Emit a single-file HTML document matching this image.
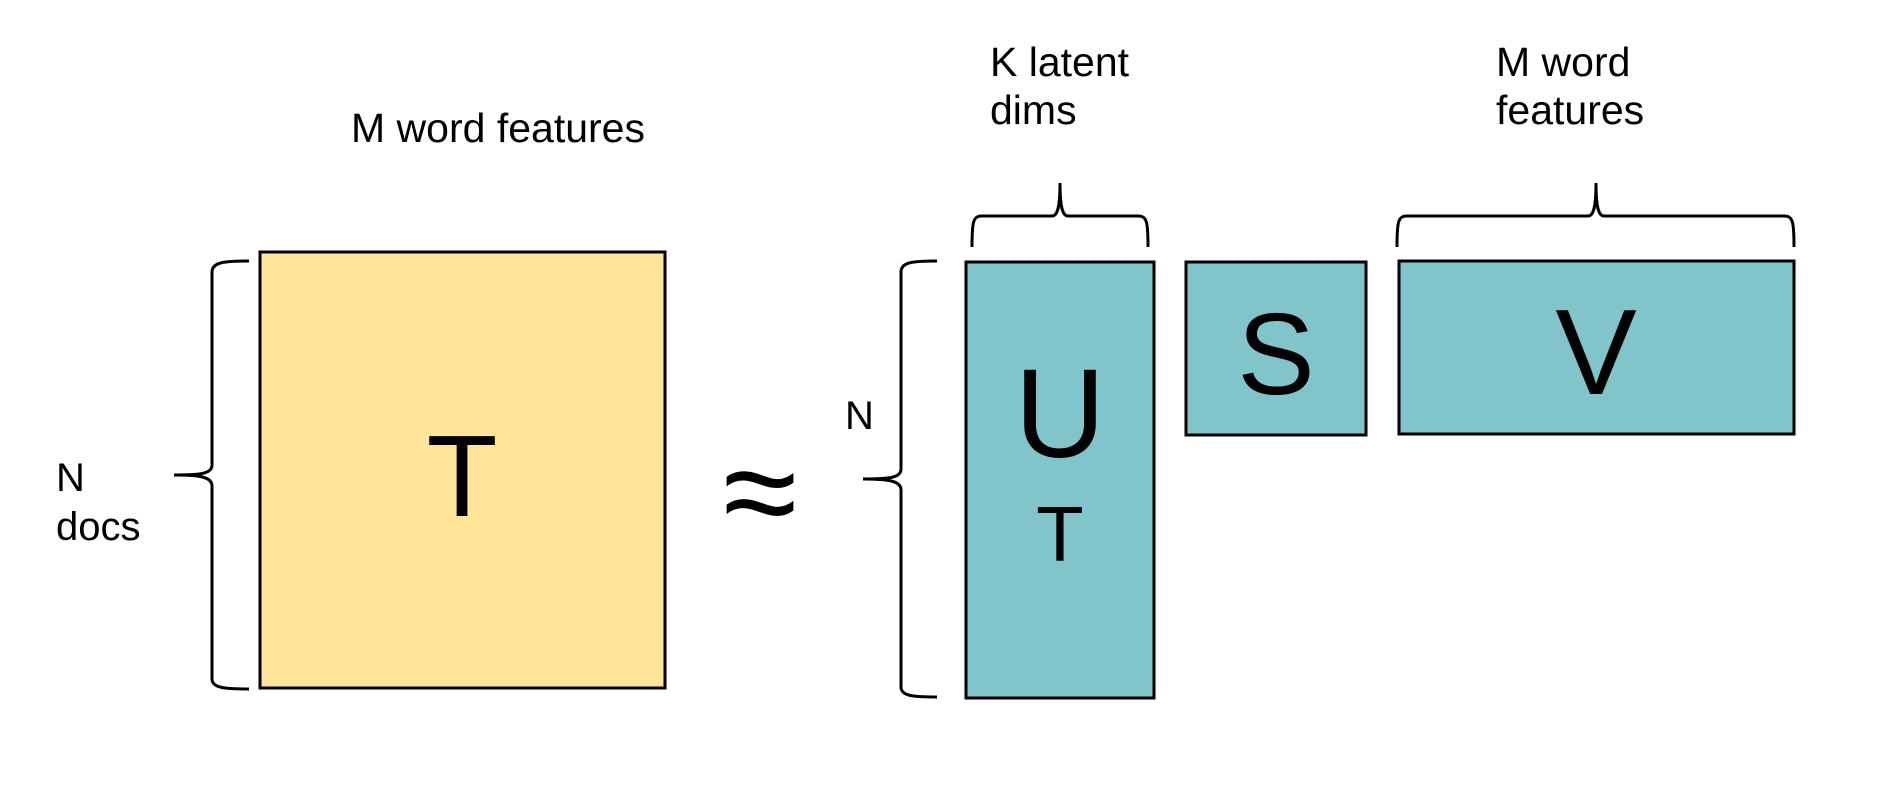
<!DOCTYPE html>
<html><head><meta charset="utf-8"><style>
html,body{margin:0;padding:0;background:#fff;}
svg{display:block;}
text{font-family:"Liberation Sans",sans-serif;fill:#000;}
</style></head><body>
<svg width="1880" height="786" viewBox="0 0 1880 786">
<text x="498" y="142" font-size="41" text-anchor="middle">M word features</text>
<path d="M249,261 C225,261 212,262 212,272 L212,465 C212,474 200,475 174,475 C200,475 212,477 212,486 L212,679 C212,688 225,689 249,689" fill="none" stroke="#000" stroke-width="3"/>
<text x="56" y="491" font-size="40">N</text>
<text x="56" y="540" font-size="40">docs</text>
<rect x="260" y="252" width="405" height="436" fill="#FEE599" stroke="#000" stroke-width="3"/>
<text x="462" y="516" font-size="116" text-anchor="middle">T</text>
<text x="760" y="538" font-size="135" text-anchor="middle">≈</text>
<text x="845" y="429" font-size="40">N</text>
<path d="M937,261 C913,261 901,262 901,272 L901,469 C901,478 889,479 863,479 C889,479 901,481 901,490 L901,687 C901,696 913,697 937,697" fill="none" stroke="#000" stroke-width="3"/>
<rect x="966" y="262" width="188" height="436" fill="#81C4C9" stroke="#000" stroke-width="3"/>
<text x="1060" y="457" font-size="126" text-anchor="middle">U</text>
<text x="1060" y="561" font-size="78" text-anchor="middle">T</text>
<rect x="1186" y="262" width="180" height="173" fill="#81C4C9" stroke="#000" stroke-width="3"/>
<text x="1276" y="394" font-size="116" text-anchor="middle">S</text>
<rect x="1399" y="261" width="395" height="173" fill="#81C4C9" stroke="#000" stroke-width="3"/>
<text x="1596" y="394" font-size="122" text-anchor="middle">V</text>
<path d="M972,247 C972,222 973,216 982,216 L1052,216 C1058,216 1060,205 1060,183 C1060,205 1062,216 1068,216 L1138,216 C1147,216 1148,222 1148,247" fill="none" stroke="#000" stroke-width="3"/>
<path d="M1397,247 C1397,222 1398,216 1407,216 L1588,216 C1594,216 1596,205 1596,183 C1596,205 1598,216 1604,216 L1784,216 C1793,216 1794,222 1794,247" fill="none" stroke="#000" stroke-width="3"/>
<text x="990" y="76" font-size="41">K latent</text>
<text x="990" y="124" font-size="41">dims</text>
<text x="1496" y="76" font-size="41">M word</text>
<text x="1496" y="124" font-size="41">features</text>
</svg>
</body></html>
